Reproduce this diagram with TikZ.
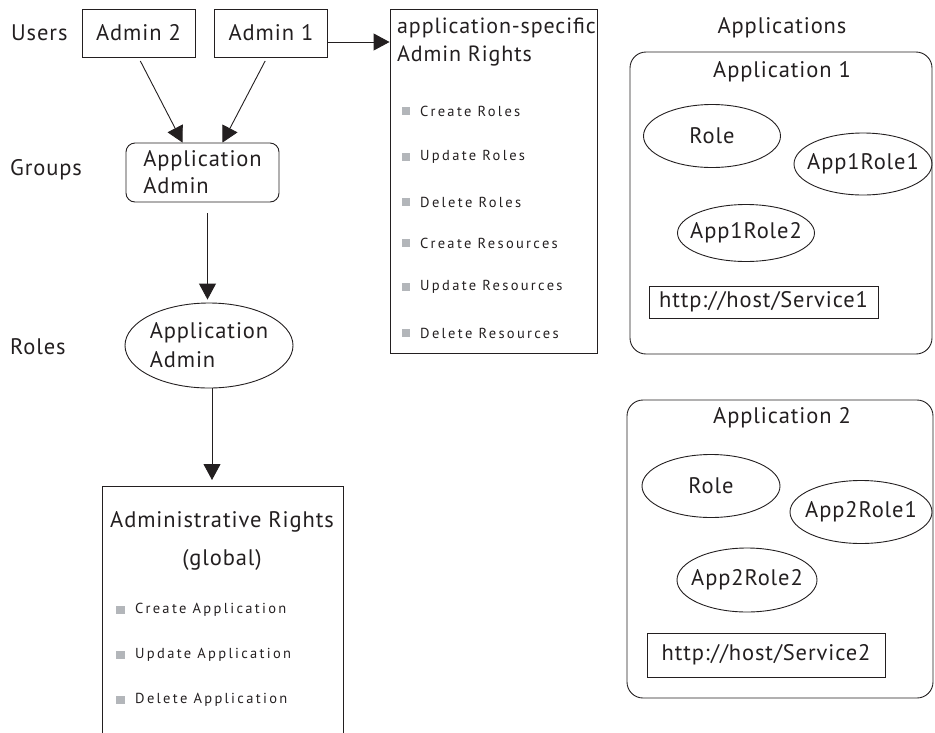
\documentclass[tikz,border=0pt]{standalone}
\usepackage{fontspec}
\setmainfont{PT Sans}
\newfontfamily\lblfont[LetterSpace=4]{PT Sans}
\newfontfamily\itemfont[LetterSpace=16]{PT Sans}
\usetikzlibrary{arrows.meta, shapes.geometric, positioning}
\definecolor{inkgray}{HTML}{231F20}
\definecolor{bulletgray}{HTML}{B3B6BA}

\tikzset{
  big/.style={font=\lblfont\fontsize{22.5}{27}\selectfont, text=inkgray, inner sep=0pt},
  small/.style={font=\itemfont\fontsize{14.5}{17}\selectfont, text=inkgray, inner sep=0pt},
  userbox/.style={draw=inkgray, line width=0.9pt, minimum width=113pt, minimum height=48pt, big},
  groupbox/.style={draw=inkgray, line width=0.9pt, rounded corners=9pt, minimum width=153pt, minimum height=59pt, align=left, big},
  rolebubble/.style={draw=inkgray, line width=0.9pt, ellipse, big, inner xsep=-40pt, inner ysep=-20pt},
  appframe/.style={draw=inkgray, line width=0.9pt, rounded corners=16pt},
  urlbox/.style={draw=inkgray, line width=0.9pt, inner sep=0pt, big},
  bullet/.style={fill=bulletgray, minimum size=8.5pt, inner sep=0pt},
  arr/.style={draw=inkgray, line width=0.9pt, -{Triangle[length=16pt, width=17pt]}}
}

\begin{document}
\begin{tikzpicture}[x=1pt, y=-1pt]
  \useasboundingbox (0,0) rectangle (935,732);

  % Ebenen links
  \node[big, anchor=west] (lusers) at (11,33) {Users};
  \node[big, anchor=west] (lgroups) at (10,170) {Groups};
  \node[big, anchor=west] (lroles) at (10,347) {Roles};

  % Benutzer
  \node[userbox] (admin2) at (138.5,33) {Admin 2};
  \node[userbox] (admin1) at (271,33) {Admin 1};

  % Gruppe und Rolle
  \node[groupbox] (group) at (202.5,172.5) {Application\\Admin};
  \node[rolebubble, minimum width=168pt, minimum height=85pt, align=left, font=\lblfont\fontsize{22.5}{29}\selectfont] (role) at (209,345.5) {Application\\Admin};

  % anwendungsspezifische Rechte
  \node[draw=inkgray, line width=0.9pt, minimum width=207pt, minimum height=344pt, inner sep=0pt] (appright) at (493.5,181.5) {};
  \node[big, anchor=north west, align=left, font=\lblfont\fontsize{22}{28}\selectfont] (aptitle) at (397,18) {application-specific\\Admin Rights};
  \foreach \yy/\txt [count=\i] in {111/Create Roles, 157/Update Roles, 202/Delete Roles,
      243/Create Resources, 287/Update Resources, 333/Delete Resources} {
    \node[bullet] (apb\i) at (406,\yy) {};
    \node[small, anchor=west] (api\i) at (420,\yy) {\txt};
  }

  % globale Rechte (unten offen)
  \draw[inkgray, line width=0.9pt] (102,740) -- (102,486) -- (343,486) -- (343,740);
  \coordinate (grtop) at (102,486);
  \node[big, align=center] (grtitle) at (222,541) {Administrative Rights\\[11pt](global)};
  \foreach \yy/\txt [count=\i] in {610/Create Application, 655/Update Application, 700/Delete Application} {
    \node[bullet] (grb\i) at (120.5,\yy) {};
    \node[small, anchor=west] (gri\i) at (135,\yy) {\txt};
  }

  % Pfeile
  \draw[arr, shorten <=4pt] (admin2.south) -- ([xshift=-20pt]group.north);
  \draw[arr, shorten <=4pt] ([xshift=-4pt]admin1.south) -- ([xshift=20pt]group.north);
  \coordinate (a1out) at ([yshift=-9pt]admin1.east);
  \draw[arr] (a1out) -- (a1out -| appright.west);
  \draw[arr, shorten <=11pt, shorten >=3pt] ([xshift=5pt]group.south) -- ([xshift=5pt]group.south |- role.north);
  \draw[arr, shorten >=6pt] ([xshift=3pt]role.south) -- ([xshift=3pt]role.south |- grtop);

  % Anwendungen
  \node[big] (lapps) at (782,28) {Applications};

  \draw[appframe] (630,52) rectangle (932,354);
  \node[big] (app1) at (782,72) {Application 1};
  \node[rolebubble, minimum width=137pt, minimum height=63pt] (a1role) at (712,136) {Role};
  \node[rolebubble, minimum width=138pt, minimum height=62pt] (a1r1) at (863,164) {App1Role1};
  \node[rolebubble, minimum width=137pt, minimum height=57pt] (a1r2) at (746,233) {App1Role2};
  \node[urlbox, minimum width=229pt, minimum height=32pt] (url1) at (763.5,302) {http://host/Service1};

  \draw[appframe] (627,400) rectangle (933,698);
  \node[big] (app2) at (782,418) {Application 2};
  \node[rolebubble, minimum width=138pt, minimum height=63pt] (a2role) at (711,486) {Role};
  \node[rolebubble, minimum width=142pt, minimum height=63pt] (a2r1) at (861,512) {App2Role1};
  \node[rolebubble, minimum width=140pt, minimum height=64pt] (a2r2) at (747,580) {App2Role2};
  \node[urlbox, minimum width=238pt, minimum height=44pt] (url2) at (766,655) {http://host/Service2};
\end{tikzpicture}
\end{document}
